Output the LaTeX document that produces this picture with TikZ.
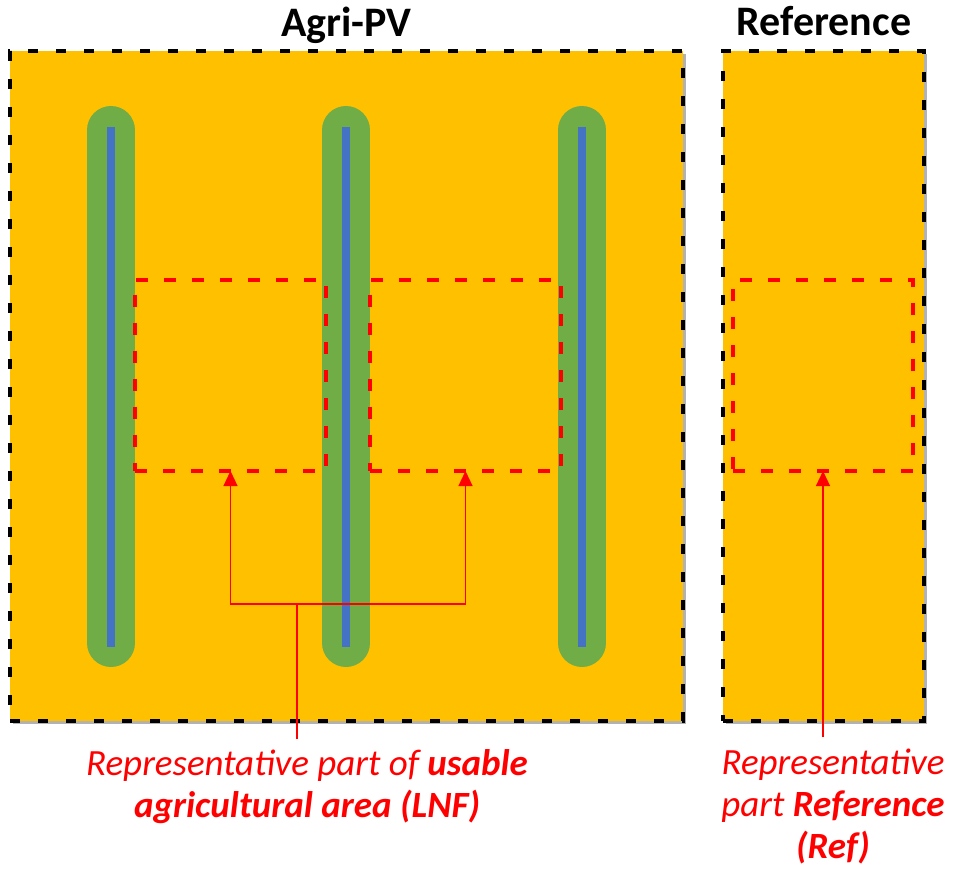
\documentclass[tikz,border=0pt]{standalone}
\usepackage{fontspec}
\setmainfont{Carlito}
\usetikzlibrary{arrows.meta,shadows}
\definecolor{field}{HTML}{FFC000}
\definecolor{plant}{HTML}{70AD47}
\definecolor{panel}{HTML}{4472C4}
\definecolor{mark}{HTML}{FF0000}
\begin{document}
\begin{tikzpicture}[x=1pt,y=-1pt,
  fieldbox/.style={draw=black, line width=4.5pt, dash pattern=on 10pt off 18pt,
    fill=field, inner sep=0pt, outer sep=0pt,
    general shadow={fill=black, opacity=0.3, shadow xshift=3pt, shadow yshift=-3pt}},
  strip/.style={draw=plant, line width=48pt, line cap=round},
  areabox/.style={draw=mark, line width=4pt, dash pattern=on 12pt off 16pt,
    inner sep=0pt, outer sep=0pt, minimum height=191pt},
  conn/.style={draw=mark, line width=1.2pt},
  tip/.style={-{Triangle[width=14pt,length=15pt]}},
  title/.style={font=\fontsize{42}{46}\selectfont\bfseries, anchor=base},
  note/.style={font=\fontsize{37}{42}\selectfont\itshape, text=mark, align=center, anchor=base}]
\useasboundingbox (0,0) rectangle (954,869);
% fields
\node[fieldbox, minimum width=673pt, minimum height=670pt] (agri) at (346.5,386) {};
\node[fieldbox, minimum width=201pt, minimum height=670pt] (ref) at (823.5,386) {};
% PV rows
\foreach \x in {111,346,582} {
  \draw[strip] (\x,130) -- (\x,643);
  \fill[panel] (\x-4,127) rectangle (\x+4,647);
}
% representative areas
\node[areabox, minimum width=191pt] (lnf1) at (230.5,375.5) {};
\node[areabox, minimum width=191pt] (lnf2) at (465.5,375.5) {};
\node[areabox, minimum width=180pt] (refa) at (823,375.5) {};
% titles
\node[title] (t1) at (346.5,37) {Agri-PV};
\node[title] (t2) at (824,36) {Reference};
% notes (base = baseline of last line)
\node[note] (n1) at (307,817) {Representative part of \textbf{usable}\\\textbf{agricultural area (LNF)}};
\node[note] (n2) at (833,858) {Representative\\part \textbf{Reference}\\\textbf{(Ref)}};
% connectors
\coordinate (fork) at (297,604);
\coordinate (stem1) at (297,739);
\coordinate (stem2) at (823,737);
\draw[conn] (stem1) -- (fork);
\draw[conn,tip] (fork) -| (lnf1.south);
\draw[conn,tip] (fork) -| (lnf2.south);
\draw[conn,tip] (stem2) -- (refa.south);
\end{tikzpicture}
\end{document}
